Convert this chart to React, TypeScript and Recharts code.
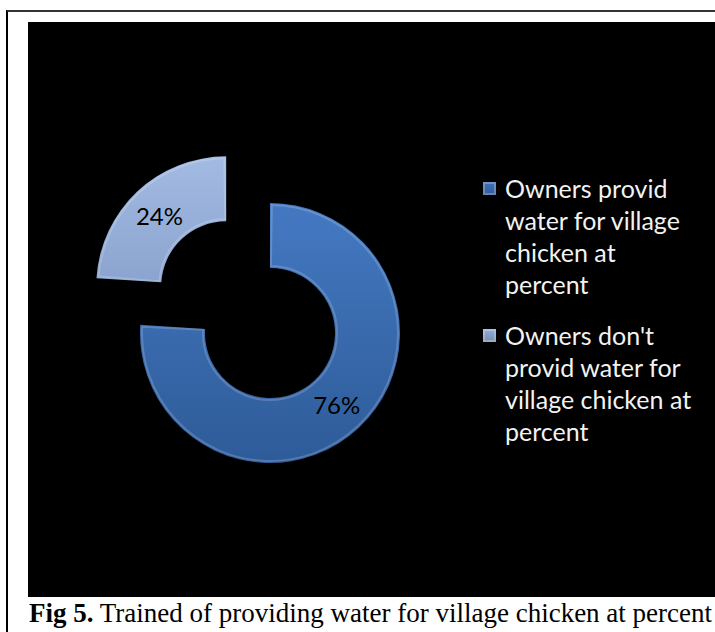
import React from "react";
import { PieChart, Pie, Cell, Sector, Legend } from "recharts";

const categories = [
  "Owners provid water for village chicken at percent",
  "Owners don't provid water for village chicken at percent",
];
const values = [76, 24];
const sliceColors = ["url(#gradDark)", "url(#gradLight)"];
const legendColors = ["#3E72BA", "#93AEDA"];

const data = categories.map((name, i) => ({ name, value: values[i] }));

const RAD = Math.PI / 180;
const EXPLODE = 64; // pull-out distance of the small slice

function offsetFor(index: number, midAngle: number) {
  if (index !== 1) return { dx: 0, dy: 0 };
  return { dx: EXPLODE * Math.cos(midAngle * RAD), dy: -EXPLODE * Math.sin(midAngle * RAD) };
}

const SliceShape = (props: any) => {
  const { cx, cy, innerRadius, outerRadius, startAngle, endAngle, midAngle, fill, index } = props;
  const { dx, dy } = offsetFor(index, midAngle);
  const pad = endAngle > startAngle ? 0.8 : -0.8;
  return (
    <g>
      <Sector
        cx={cx + dx}
        cy={cy + dy}
        innerRadius={innerRadius}
        outerRadius={outerRadius}
        startAngle={startAngle}
        endAngle={endAngle}
        fill={fill}
        stroke="none"
      />
      <Sector
        cx={cx + dx}
        cy={cy + dy}
        innerRadius={innerRadius + 2}
        outerRadius={outerRadius - 2}
        startAngle={startAngle + pad}
        endAngle={endAngle - pad}
        fill="none"
        stroke="rgba(255,255,255,0.18)"
        strokeWidth={2}
      />
    </g>
  );
};

const renderLabel = (props: any) => {
  const { cx, cy, midAngle, innerRadius, outerRadius, value, index } = props;
  const { dx, dy } = offsetFor(index, midAngle);
  const r = (innerRadius + outerRadius) / 2;
  const x = cx + dx + r * Math.cos(midAngle * RAD);
  const y = cy + dy - r * Math.sin(midAngle * RAD);
  return (
    <text
      x={x}
      y={y}
      textAnchor="middle"
      dominantBaseline="central"
      fill="#000"
      fontSize={24}
      fontFamily="Lato, 'Open Sans', sans-serif"
    >
      {value}%
    </text>
  );
};

const LegendContent = () => (
  <div style={{ width: 220, fontFamily: "Lato, 'Open Sans', sans-serif", fontSize: 25, lineHeight: "32px", color: "#F2F2F2" }}>
    {categories.map((name, i) => (
      <div key={name} style={{ display: "flex", alignItems: "flex-start", marginBottom: i === 0 ? 19 : 0 }}>
        <span
          style={{
            display: "inline-block",
            width: 13,
            height: 13,
            marginTop: 10,
            marginRight: 9,
            flex: "0 0 13px",
            background: `linear-gradient(180deg, ${legendColors[i]}, ${legendColors[i]}cc)`,
            boxShadow: "inset 0 0 0 2px rgba(255,255,255,0.25)",
          }}
        />
        <span>{name}</span>
      </div>
    ))}
  </div>
);

export default function App() {
  return (
    <div style={{ position: "absolute", left: 0, top: 0, width: 715, height: 632, background: "#fff", overflow: "hidden" }}>
      <div style={{ position: "absolute", left: 6, top: 10, width: 720, height: 640, borderLeft: "2px solid #000", borderTop: "2px solid #333" }} />
      <div style={{ position: "absolute", left: 28, top: 22, width: 687, height: 575, background: "#000" }}>
        <PieChart width={687} height={575} margin={{ top: 0, right: 0, bottom: 0, left: 0 }}>
          <defs>
            <linearGradient id="gradDark" x1="0" y1="0" x2="0" y2="1">
              <stop offset="0%" stopColor="#4479C2" />
              <stop offset="100%" stopColor="#2E5B98" />
            </linearGradient>
            <linearGradient id="gradLight" x1="0" y1="0" x2="0" y2="1">
              <stop offset="0%" stopColor="#A3BBE2" />
              <stop offset="100%" stopColor="#8BA4CF" />
            </linearGradient>
          </defs>
          <Pie
            data={data}
            dataKey="value"
            nameKey="name"
            cx={242}
            cy={311}
            innerRadius={65}
            outerRadius={130}
            startAngle={90}
            endAngle={-270}
            stroke="none"
            shape={SliceShape}
            label={renderLabel}
            labelLine={false}
            isAnimationActive={false}
          >
            {data.map((d, i) => (
              <Cell key={d.name} fill={sliceColors[i]} />
            ))}
          </Pie>
          <Legend
            layout="vertical"
            align="right"
            verticalAlign="top"
            content={LegendContent}
            wrapperStyle={{ left: 455, top: 150, width: 230 }}
          />
        </PieChart>
      </div>
      <div
        style={{
          position: "absolute",
          left: 29,
          top: 597,
          fontFamily: "'Liberation Serif', 'Times New Roman', serif",
          fontSize: 27,
          lineHeight: "32px",
          color: "#000",
          whiteSpace: "nowrap",
        }}
      >
        <b>Fig 5.</b> Trained of providing water for village chicken at percent
      </div>
    </div>
  );
}
